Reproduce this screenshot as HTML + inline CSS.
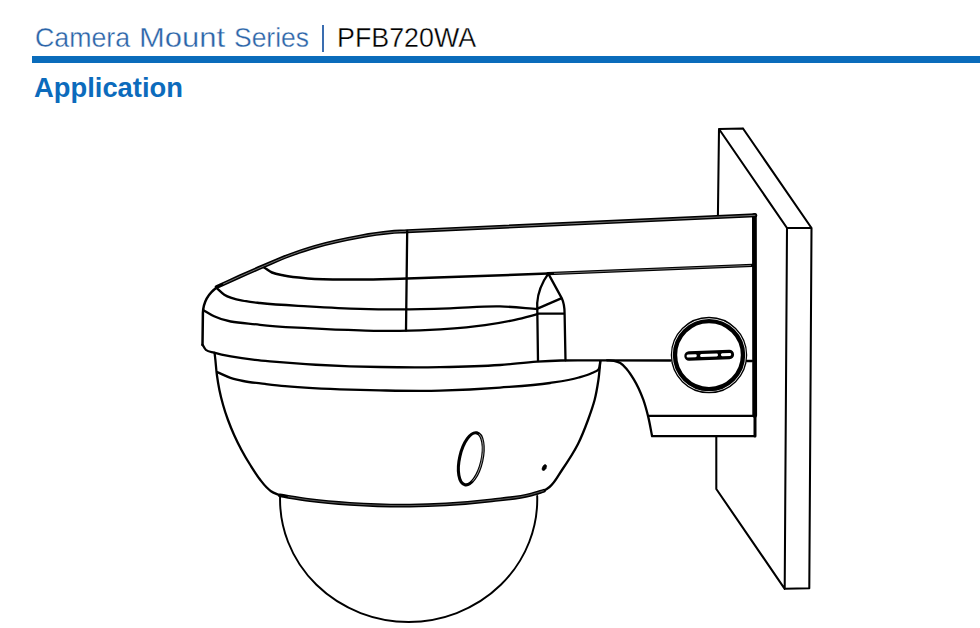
<!DOCTYPE html>
<html><head><meta charset="utf-8">
<style>
html,body{margin:0;padding:0;background:#fff;width:980px;height:628px;overflow:hidden;position:relative;font-family:"Liberation Sans",sans-serif;}
.w{position:absolute;font-size:28px;line-height:28px;white-space:nowrap;transform-origin:0 0;top:24px;color:#2b64a8;-webkit-text-stroke:0.35px #fff}
.c1{left:34.8px;transform:scaleX(0.955)}
.c2{left:139.4px;transform:scaleX(1.107)}
.c3{left:233.6px;transform:scaleX(0.945)}
.c4{left:336.6px;transform:scaleX(0.958);color:#000}
.pipe{position:absolute;left:321.6px;top:25px;width:2.2px;height:27.4px;background:#3a6db0}
.bar{position:absolute;left:32px;top:56px;width:948px;height:7px;background:#0a6cbb}
.t2{position:absolute;left:34.3px;top:73.9px;font-size:28px;transform:scaleX(0.977);line-height:28px;font-weight:bold;color:#0c6bbc;white-space:nowrap;transform-origin:0 0}
svg{position:absolute;left:0;top:0}
</style></head><body>
<div class="w c1">Camera</div><div class="w c2">Mount</div><div class="w c3">Series</div><div class="pipe"></div><div class="w c4">PFB720WA</div>
<div class="bar"></div>
<div class="t2">Application</div>
<svg width="980" height="628" viewBox="0 0 980 628" fill="none" stroke="#000" stroke-width="2.3" stroke-linejoin="round" stroke-linecap="round">
<path d="M719,129 L717.9,217.5 M719,129 L743,128.5 M719,129 L787,228 M743,128.5 L811.5,228 M787,228 L811.5,228 M787,228 L784.7,588.8 M811.5,228 L809.3,588.2 M784.7,588.8 L809.3,588.2 M716.3,436.4 L716.3,489 L784.7,588.8" stroke-width="2.05"/>
<path d="M754.4,215.5 L754.7,415.5" stroke-width="4.8"/>
<path d="M755,415.5 L755,436" stroke-width="3.0"/>
<path d="M216.7,287.0 C224.5,283.5 232.2,279.9 240.0,276.4 C247.8,272.9 255.6,269.5 263.4,266.2 C271.9,262.6 280.3,258.8 289.0,255.5 C297.6,252.3 306.2,249.3 315.0,246.8 C322.1,244.8 329.3,243.0 336.5,241.4 C344.3,239.6 352.1,238.0 360.0,236.6 C369.9,234.8 379.9,233.2 390.0,232.3 C395.7,231.8 401.5,231.6 407.2,231.2 L755.3,215.3" stroke-width="4.0"/>
<path d="M216.7,287.0 C224.5,283.5 232.2,279.9 240.0,276.4 C247.8,272.9 255.6,269.5 263.4,266.2 C271.9,262.6 280.3,258.8 289.0,255.5 C297.6,252.3 306.2,249.3 315.0,246.8 C322.1,244.8 329.3,243.0 336.5,241.4 C344.3,239.6 352.1,238.0 360.0,236.6 C369.9,234.8 379.9,233.2 390.0,232.3 C395.7,231.8 401.5,231.6 407.2,231.2 L755.3,215.3" stroke-width="0.45" stroke="#fff" stroke-dasharray="0 7 2000" stroke-linecap="butt"/>
<path d="M202.5,345 L202.9,313 C203.3,303 208,293.5 217.5,287" stroke-width="2.5"/>
<path d="M264.5,267.8 C267.0,269.4 269.3,271.3 272.0,272.5 C275.7,274.2 279.9,274.7 283.9,275.5 C291.8,277.1 299.8,277.7 307.8,278.4 C325.1,280.0 342.6,279.5 360.0,279.5 C375.7,279.5 391.3,278.9 407.0,278.6 L548,273.6" stroke-width="2.5"/>
<path d="M548,273.6 L752.5,265.4" stroke-width="3.4"/>
<path d="M554,273.4 L751,265.4" stroke-width="0.45" stroke="#fff" stroke-linecap="butt"/>
<path d="M407.2,231 L406,330.5"/>
<path d="M217.3,288.6 C219.6,290.7 221.7,293.0 224.3,294.8 C230.5,299.0 238.6,299.8 246.0,301.2 C250.6,302.1 255.3,302.5 260.0,303.0 C275.9,304.8 291.9,305.4 307.8,306.3 C325.2,307.3 342.6,308.3 360.0,308.8 C373.3,309.2 386.7,309.3 400.0,309.3 C416.7,309.3 433.3,308.8 450.0,308.3 C466.7,307.8 483.3,306.0 500.0,306.4 C512.5,306.7 524.9,308.1 537.3,309.0"/>
<path d="M203.9,310.4 C207.3,312.4 210.6,314.6 214.1,316.3 C228.1,323.2 244.6,322.8 260.0,324.8 C275.8,326.8 291.9,327.3 307.8,328.2 C325.2,329.2 342.6,330.0 360.0,330.4 C373.3,330.7 386.7,331.1 400.0,330.9 C413.3,330.7 426.7,330.2 440.0,329.4 C455.0,328.4 470.1,327.4 485.0,325.2 C495.1,323.7 505.1,322.0 515.0,319.8 C522.5,318.2 529.9,316.1 537.3,314.2"/>
<path d="M202.5,344.6  C203.7,346.4 204.4,348.6 206.0,350.0 C208.2,351.9 211.4,351.9 214.1,352.7 C227.3,356.7 241.2,358.3 255.0,359.9 C260.0,360.5 265.0,360.9 270.0,361.3 C296.6,363.7 323.3,365.4 350.0,366.3 C360.0,366.6 370.0,366.8 380.0,367.0 C400.0,367.3 420.0,367.4 440.0,367.1 C460.0,366.8 480.0,366.4 500.0,365.0 C512.4,364.1 524.6,362.4 537.0,361.6 C545.0,361.1 553.0,360.7 561.0,360.5 C574.0,360.1 587.0,360.4 600.0,360.4 L670.7,360.5 M747,361 L752,361"/>
<path d="M537.2,303 C538,291 543,281 548.3,273.6 L561.7,298.1 C563.5,302 564.6,308 564.6,313.7 L565.5,360.3 M537.2,303 L538,361 M537.5,308.6 L561.7,298.1 M537.5,313.7 L564.6,313.3"/>
<path d="M607.0,360.4 C609.3,360.5 611.7,360.3 614.0,360.8 C616.2,361.3 618.4,362.0 620.3,363.1 C623.0,364.6 625.0,367.2 627.0,369.5 C629.6,372.5 631.7,376.0 633.8,379.4 C637.7,385.8 640.7,392.7 643.3,399.7 C645.2,405.0 646.6,410.4 648.0,415.9 C649.7,422.6 650.7,429.4 652.1,436.2 L755,436.2 M648,415.9 L755,415.9"/>
<path d="M214.6,353.0 C214.9,355.3 215.1,357.7 215.4,360.0 C215.9,365.0 216.2,370.0 216.9,375.0 C217.6,380.0 218.4,385.0 219.4,390.0 C220.4,395.0 221.7,400.0 223.1,405.0 C224.5,410.1 226.2,415.1 228.0,420.0 C229.9,425.1 231.9,430.1 234.1,435.0 C236.4,440.1 238.9,445.1 241.5,450.0 C244.2,455.1 247.2,460.1 250.3,465.0 C253.4,469.9 256.5,474.9 260.0,479.5 C262.1,482.2 264.1,484.9 266.5,487.3 C267.9,488.7 269.4,490.1 271.0,491.2 C273.7,493.1 277.0,494.0 280.0,495.4"/>
<path d="M217.1,372.1 C221.6,374.0 225.9,376.3 230.5,377.8 C234.6,379.2 238.9,380.1 243.2,381.0 C250.4,382.5 257.7,383.0 265.0,383.9 C271.7,384.7 278.3,385.5 285.0,386.1 C306.6,388.2 328.3,389.0 350.0,389.7 C360.0,390.0 370.0,390.2 380.0,390.4 C400.0,390.7 420.0,391.1 440.0,390.6 C460.0,390.1 480.0,389.1 500.0,387.6 C516.7,386.4 533.5,385.6 550.0,383.0 C559.7,381.5 569.4,380.2 578.8,377.5 C583.3,376.2 587.8,375.0 592.0,373.0 C594.2,372.0 597.0,371.4 598.5,369.5 C600.3,367.3 599.7,364.0 600.3,361.2"/>
<path d="M600.3,361.2 C599.7,367.5 599.3,373.8 598.4,380.0 C597.4,386.7 596.3,393.4 594.6,400.0 C592.8,406.8 590.4,413.4 588.0,420.0 C585.0,428.1 581.9,436.3 578.0,444.0 C573.4,453.1 567.7,461.6 562.0,470.0 C558.0,475.8 555.0,482.6 549.5,487.0 C547.7,488.4 545.9,489.6 543.9,490.7 C541.4,492.1 538.6,492.9 536.0,494.0"/>
<path d="M279.9,495.4 C289.9,497.0 299.9,498.8 310.0,500.1 C323.3,501.8 336.6,502.9 350.0,503.8 C370.0,505.1 390.0,505.8 410.0,505.6 C422.0,505.5 433.9,505.1 445.9,504.4 C461.2,503.5 476.5,502.1 491.8,500.3 C504.6,498.8 517.6,498.0 530.1,494.8 C534.8,493.6 539.3,492.1 543.9,490.7" stroke-width="3.8"/>
<path d="M279.9,495.4 C289.9,497.0 299.9,498.8 310.0,500.1 C323.3,501.8 336.6,502.9 350.0,503.8 C370.0,505.1 390.0,505.8 410.0,505.6 C422.0,505.5 433.9,505.1 445.9,504.4 C461.2,503.5 476.5,502.1 491.8,500.3 C504.6,498.8 517.6,498.0 530.1,494.8 C534.8,493.6 539.3,492.1 543.9,490.7" stroke-width="0.35" stroke="#fff" stroke-dasharray="0 8 2000" stroke-linecap="butt"/>
<path d="M280.1,496 A128.6,122.5 0 1 0 537.2,496" stroke-width="1.95"/>
<circle cx="709" cy="355.1" r="37.6" stroke-width="1.3"/>
<circle cx="709" cy="355.1" r="34" stroke-width="4.4"/>
<g transform="rotate(-2.1 709.2 355.3)">
<rect x="684.3" y="350.6" width="49.8" height="9.4" rx="4.7" fill="#000" stroke="none"/>
<rect x="686.6" y="353.8" width="10.2" height="2.9" rx="1.4" fill="#fff" stroke="none"/>
<rect x="700.1" y="353.8" width="17.9" height="2.9" rx="1.4" fill="#fff" stroke="none"/>
<rect x="720.9" y="353.8" width="10.3" height="2.9" rx="1.4" fill="#fff" stroke="none"/>
</g>
<ellipse cx="470.8" cy="458.8" rx="11.2" ry="26.6" transform="rotate(13 470.8 458.8)" stroke-width="3.1"/>
<ellipse cx="470.8" cy="458.8" rx="11.2" ry="26.6" transform="rotate(13 470.8 458.8)" stroke="#fff" stroke-width="0.55" stroke-dasharray="22 73 33" stroke-linecap="butt"/>
<ellipse cx="544.3" cy="467.6" rx="1.8" ry="3.2" transform="rotate(28 544.3 467.6)" fill="#000" stroke-width="0.6"/>
</svg>
</body></html>
